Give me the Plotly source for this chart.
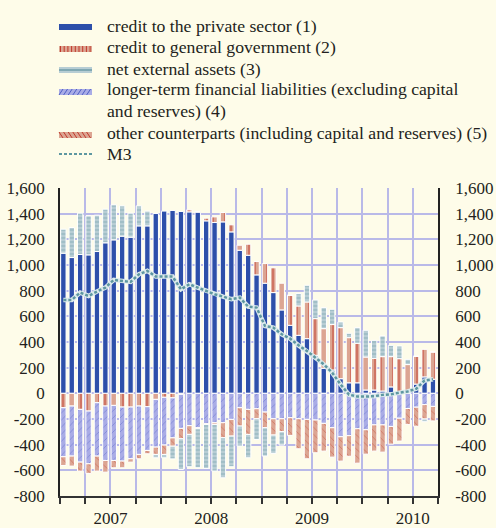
import plotly.graph_objects as go

# monthly data, Jan 2007 - Sep 2010 (EUR billions, annual flows)
months = list(range(45))

private_credit = [1092, 1058, 1082, 1079, 1105, 1173, 1196, 1225, 1217, 1305, 1305, 1401,
                  1420, 1425, 1417, 1414, 1412, 1344, 1331, 1336, 1258, 1115, 1076, 923,
                  858, 785, 650, 530, 452, 426, 296, 195, 182, 114, 82, 82,
                  26, 26, 18, 50, 4, 3, 72, 128, 110]
gov_credit = [-112, -99, -125, -138, -73, -99, -94, -107, -107, -99, -104, -47,
              -31, -35, -8, 16, 5, 21, 44, 73, 55, 39, 86, 104,
              153, 193, 208, 234, 229, 286, 286, 309, 354, 398, 352, 308,
              257, 247, 268, 236, 266, 221, 217, 215, 212]
lt_liabilities = [-382, -390, -411, -411, -416, -424, -429, -421, -403, -377, -341, -372,
                  -372, -312, -265, -252, -268, -237, -229, -229, -203, -112, -125, -120,
                  -146, -198, -198, -190, -198, -203, -208, -234, -268, -338, -330, -276,
                  -284, -246, -246, -258, -194, -118, -108, -88, -102]
other_cp = [-68, -78, -70, -75, -117, -91, -57, -52, -26, -34, -26, -57,
            -73, -65, -81, -68, -8, -5, -13, -117, -130, -143, -195, -78,
            -122, -127, -101, -138, -234, -307, -255, -216, -229, -190, -160, -268,
            -190, -204, -212, -138, -178, -124, -148, -112, -113]
net_ext = [187, 234, 322, 304, 283, 262, 273, 236, 187, 156, 115, -26,
           -26, -99, -239, -252, -304, -343, -364, -312, -239, -156, -182, -161,
           -221, -143, -104, 0, 96, 130, 146, 164, 119, 44, 34, 122,
           208, 140, 161, 88, 99, 41, 0, -21, 0]
m3 = [728, 728, 785, 759, 793, 824, 884, 874, 868, 928, 954, 910,
      910, 910, 811, 850, 824, 798, 772, 754, 733, 746, 676, 668,
      525, 512, 460, 426, 374, 330, 278, 226, 161, 70, -10, -25,
      -25, -22, -12, -8, 5, 15, 35, 100, 110]

y_ticks = [-800, -600, -400, -200, 0, 200, 400, 600, 800, 1000, 1200, 1400, 1600]
y_labels = ["-800", "-600", "-400", "-200", "0", "200", "400", "600", "800",
            "1,000", "1,200", "1,400", "1,600"]
x_ticks = [-0.4 + 3 * k for k in range(16)]
x_labels = ["" for k in range(16)]
x_labels[2], x_labels[6], x_labels[10], x_labels[14] = "2007", "2008", "2009", "2010"

legend_labels = ["credit to the private sector (1)",
                 "credit to general government (2)",
                 "net external assets (3)",
                 "longer-term financial liabilities (excluding capital",
                 "and reserves) (4)",
                 "other counterparts (including capital and reserves) (5)",
                 "M3"]

BG = "#FEFCE9"
BLUE = "#2D4FAA"
SALMON = "#DCA592"
RED = "#C0392B"
NEA_BG = "#B7CDD4"
NEA_FG = "#6E9BA8"
LAV = "#A9ACE6"
LAV_FG = "#4F5FC4"
GRID = "#B9B9E8"
TEAL = "#5E97A1"
FONT = "Liberation Serif"
INK = "#231F20"

white_line = dict(color="white", width=1)

fig = go.Figure()
fig.add_trace(go.Bar(x=months, y=private_credit, marker=dict(color=BLUE, line=white_line)))
fig.add_trace(go.Bar(x=months, y=gov_credit, marker=dict(
    color=SALMON, line=white_line,
    pattern=dict(shape="|", size=6, solidity=0.3, fgcolor=RED, bgcolor=SALMON))))
fig.add_trace(go.Bar(x=months, y=lt_liabilities, marker=dict(
    color=LAV, line=white_line,
    pattern=dict(shape="/", size=5, solidity=0.15, fgcolor=LAV_FG, bgcolor=LAV))))
fig.add_trace(go.Bar(x=months, y=other_cp, marker=dict(
    color=SALMON, line=white_line,
    pattern=dict(shape="\\", size=5, solidity=0.15, fgcolor=RED, bgcolor=SALMON))))
fig.add_trace(go.Bar(x=months, y=net_ext, marker=dict(
    color=NEA_BG, line=white_line,
    pattern=dict(shape="-", size=4, solidity=0.3, fgcolor=NEA_FG, bgcolor=NEA_BG))))
fig.add_trace(go.Scatter(x=months, y=m3, mode="lines", line=dict(color="#DCEAEC", width=4.5)))
fig.add_trace(go.Scatter(x=months, y=m3, mode="lines",
                         line=dict(color=TEAL, width=2.5, dash="3px,2px")))
# invisible trace so the right axis gets drawn
fig.add_trace(go.Scatter(x=[0], y=[0], yaxis="y2", mode="lines", opacity=0,
                         hoverinfo="skip"))

# plot area in pixels: x 60..438, y 188..496
def px(x):
    return (x - 60) / 378

def py(y):
    return (496 - y) / 308

shapes = []
# zero line
shapes.append(dict(type="line", xref="x", yref="y", x0=-0.4, x1=44.6, y0=0, y1=0,
                   line=dict(color="#555555", width=1.5, dash="dot"), layer="below"))

# legend symbols
def rect(y0, y1, color):
    shapes.append(dict(type="rect", xref="paper", yref="paper", x0=px(59), x1=px(92),
                       y0=py(y1), y1=py(y0), fillcolor=color, line=dict(width=0)))

def seg(x0, y0, x1, y1, color, w=1):
    shapes.append(dict(type="line", xref="paper", yref="paper", x0=px(x0), x1=px(x1),
                       y0=py(y0), y1=py(y1), line=dict(color=color, width=w)))

rect(24, 30, BLUE)
rect(46, 52, SALMON)
for k in range(9):
    seg(60.5 + 3.7 * k, 46, 60.5 + 3.7 * k, 52, RED)
rect(67, 73, NEA_BG)
seg(59, 70, 92, 70, NEA_FG, 1.5)
rect(89, 95, LAV)
for k in range(7):
    seg(59 + 4.6 * k, 95, 63 + 4.6 * k, 89, LAV_FG)
rect(132, 138, SALMON)
for k in range(7):
    seg(59 + 4.6 * k, 132, 63 + 4.6 * k, 138, RED)
seg(59, 154, 92, 154, TEAL, 2)
shapes[-1]["line"]["dash"] = "3px,2px"

annotations = []
for label, yy in zip(legend_labels, [26, 47, 69, 89, 111, 133, 154]):
    annotations.append(dict(text=label, x=px(105), y=py(yy), xref="paper", yref="paper",
                            xanchor="left", yanchor="middle", showarrow=False,
                            font=dict(family=FONT, size=17.7, color=INK)))

y_font = dict(family=FONT, size=17, color=INK)
fig.update_layout(
    width=496, height=528,
    margin=dict(l=60, r=58, t=188, b=32),
    paper_bgcolor=BG, plot_bgcolor=BG,
    barmode="relative", bargap=0.36,
    showlegend=False,
    shapes=shapes, annotations=annotations,
    xaxis=dict(range=[-0.4, 44.6], tickmode="array", tickvals=x_ticks, ticktext=x_labels,
               showgrid=True, gridcolor=GRID, gridwidth=1.5, zeroline=False,
               showline=True, linecolor="#333333", linewidth=1.5,
               ticks="outside", ticklen=6, tickcolor="#333333", tickwidth=1.5,
               tickfont=dict(family=FONT, size=17, color=INK), ticklabelstandoff=0,
               automargin=False),
    yaxis=dict(range=[-800, 1600], tickmode="array", tickvals=y_ticks, ticktext=y_labels,
               showgrid=True, gridcolor=GRID, gridwidth=1.5, zeroline=False,
               showline=True, linecolor="#222222", linewidth=1.5,
               tickfont=y_font, ticklabelstandoff=10, automargin=False),
    yaxis2=dict(range=[-800, 1600], tickmode="array", tickvals=y_ticks, ticktext=y_labels,
                overlaying="y", side="right", showgrid=False, zeroline=False,
                showline=True, linecolor="#222222", linewidth=1.5,
                tickfont=y_font, ticklabelstandoff=12, automargin=False),
)

# the page's default body margin would shift the figure by 8px
fig.write_html("out.html", config={"displayModeBar": False},
               post_script="document.body.style.margin='0';"
                           "document.body.style.background='%s';" % BG)
